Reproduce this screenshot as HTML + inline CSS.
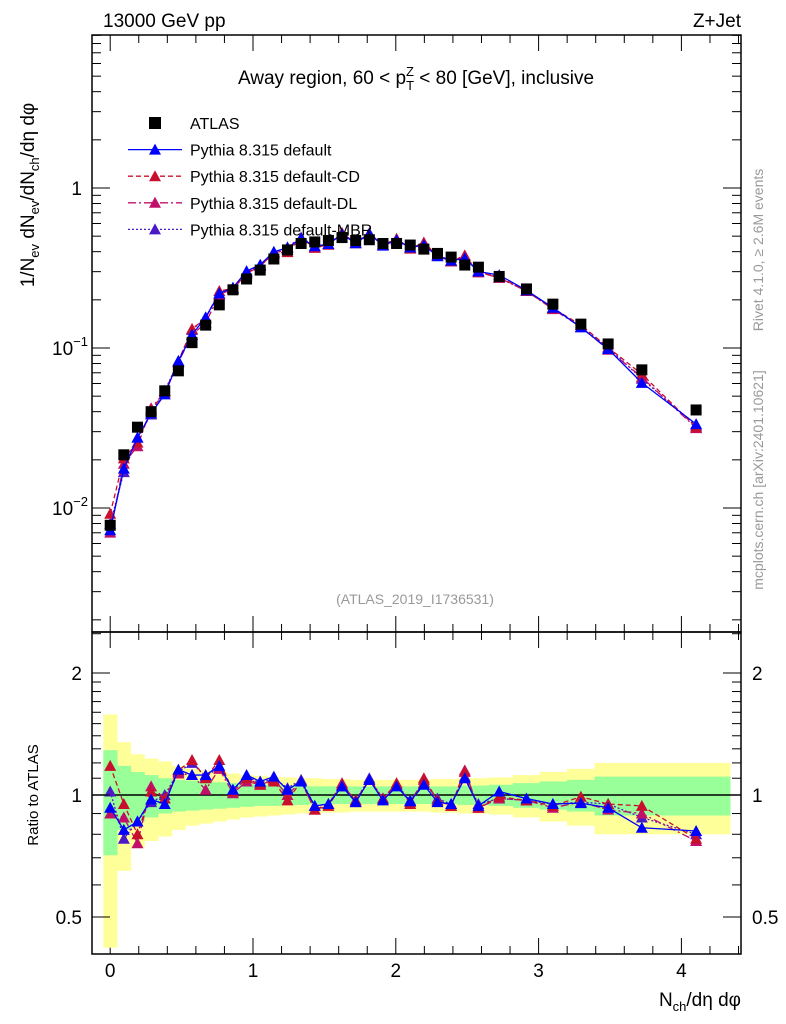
<!DOCTYPE html>
<html><head><meta charset="utf-8"><style>
body{margin:0;background:#fff;}
svg{display:block;font-family:"Liberation Sans",sans-serif;}
</style></head><body>
<svg id="chart" width="786" height="1024" viewBox="0 0 786 1024" xmlns="http://www.w3.org/2000/svg">
<text x="103" y="27" font-size="19">13000 GeV pp</text>
<text x="741" y="27" font-size="19" text-anchor="end">Z+Jet</text>
<text x="416" y="84" font-size="19" text-anchor="middle">Away region, 60 &lt; p<tspan font-size="13" dy="6">T</tspan><tspan font-size="13" dx="-8" dy="-14">Z</tspan><tspan dy="8"> &lt; 80 [GeV], inclusive</tspan></text>
<text x="415" y="604" font-size="14" fill="#999" text-anchor="middle">(ATLAS_2019_I1736531)</text>
<text transform="translate(763,250) rotate(-90)" font-size="14" fill="#999" text-anchor="middle">Rivet 4.1.0, ≥ 2.6M events</text>
<text transform="translate(763,480) rotate(-90)" font-size="14" fill="#999" text-anchor="middle">mcplots.cern.ch [arXiv:2401.10621]</text>
<text transform="translate(34,195) rotate(-90)" font-size="19" text-anchor="middle">1/N<tspan font-size="13" dy="5">ev</tspan><tspan dy="-5"> dN</tspan><tspan font-size="13" dy="5">ev</tspan><tspan dy="-5">/dN</tspan><tspan font-size="13" dy="5">ch</tspan><tspan dy="-5">/dη dφ</tspan></text>
<text transform="translate(38,795) rotate(-90)" font-size="15" text-anchor="middle">Ratio to ATLAS</text>
<text x="741" y="1006" font-size="19" text-anchor="end">N<tspan font-size="13" dy="5">ch</tspan><tspan dy="-5">/dη dφ</tspan></text>
<g id="main"></g>
<g id="ratio"></g>
<g id="legend"></g>
</svg>
<script>
const xCenters=[0,0.0955,0.191,0.2865,0.382,0.4775,0.573,0.6685,0.764,0.8595,0.955,1.0505,1.146,1.2415,1.337,1.4325,1.528,1.6235,1.719,1.8145,1.91,2.0055,2.101,2.1965,2.292,2.3875,2.483,2.5785,2.724,2.915,3.1,3.296,3.487,3.723,4.103];
const atlasValues=[0.0078,0.0215,0.032,0.040,0.054,0.072,0.108,0.139,0.186,0.231,0.27,0.307,0.36,0.41,0.45,0.46,0.47,0.49,0.47,0.475,0.45,0.45,0.44,0.415,0.39,0.37,0.33,0.32,0.28,0.234,0.188,0.141,0.106,0.073,0.041];
const ratioDefault=[0.93,0.82,0.86,0.975,0.95,1.155,1.12,1.12,1.18,1.03,1.12,1.08,1.11,1.03,1.08,0.94,0.95,1.05,0.96,1.09,0.97,1.05,0.965,1.06,0.96,0.95,1.10,0.94,1.02,0.98,0.95,0.955,0.93,0.83,0.815];
const ratioCD=[1.18,0.95,0.80,1.02,0.98,1.15,1.22,1.10,1.22,1.02,1.10,1.06,1.08,0.97,1.08,0.92,0.94,1.06,0.97,1.09,0.98,1.07,0.95,1.10,0.97,0.94,1.14,0.93,0.99,0.97,0.94,0.99,0.95,0.94,0.78];
const ratioDL=[0.90,0.88,0.76,1.05,0.98,1.13,1.12,1.03,1.16,1.01,1.08,1.06,1.09,1.00,1.08,0.92,0.95,1.07,0.96,1.09,0.98,1.06,0.96,1.09,0.97,0.94,1.15,0.93,0.98,0.97,0.93,0.96,0.92,0.90,0.77];
const ratioMBR=[1.02,0.78,0.86,0.96,1.00,1.14,1.20,1.11,1.17,1.03,1.11,1.07,1.10,1.04,1.09,0.94,0.95,1.05,0.97,1.10,0.98,1.06,0.97,1.07,0.98,0.95,1.11,0.95,0.98,0.97,0.95,0.96,0.95,0.88,0.80];
const bandYellow=[0.58,0.35,0.26,0.23,0.21,0.18,0.16,0.15,0.14,0.13,0.12,0.115,0.11,0.105,0.10,0.10,0.095,0.095,0.09,0.09,0.09,0.09,0.09,0.09,0.095,0.095,0.10,0.10,0.105,0.12,0.14,0.16,0.20,0.20,0.20];
const bandGreen=[0.29,0.18,0.14,0.12,0.10,0.09,0.085,0.08,0.075,0.07,0.065,0.06,0.06,0.055,0.055,0.05,0.05,0.05,0.05,0.05,0.05,0.05,0.05,0.05,0.05,0.05,0.055,0.055,0.06,0.07,0.08,0.09,0.11,0.11,0.11];
const xTicks=[0,1,2,3,4];

const NS="http://www.w3.org/2000/svg";
const L=92,R=741,MT=35,MB=632,RT=632,RB=954;
const X=v=>110.2+v*142.8;
const YM=v=>188-160*Math.log10(v);
const YR=v=>795-405.3*Math.log10(v);
function el(tag,attrs,parent){const e=document.createElementNS(NS,tag);for(const k in attrs)e.setAttribute(k,attrs[k]);parent.appendChild(e);return e;}
const main=document.getElementById('main'),ratio=document.getElementById('ratio'),legend=document.getElementById('legend');
const series=[
 {name:'default',r:ratioDefault,c:'#0000ff',dash:''},
 {name:'default-CD',r:ratioCD,c:'#c8102e',dash:'5,3'},
 {name:'default-DL',r:ratioDL,c:'#c0106a',dash:'8,3,2,3'},
 {name:'default-MBR',r:ratioMBR,c:'#4b1ac8',dash:'2,2'}];

const edges=[-0.048];
for(let i=0;i<xCenters.length-1;i++)edges.push((xCenters[i]+xCenters[i+1])/2);
edges.push(4.34);

for(let i=0;i<xCenters.length;i++){
 const lo=Math.min(YR(1-bandYellow[i]),RB);
 const y=el('rect',{x:X(edges[i]),width:X(edges[i+1])-X(edges[i])+0.5,y:YR(1+bandYellow[i]),height:lo-YR(1+bandYellow[i]),fill:'#ffff99'},ratio);
 
 
}
for(let i=0;i<xCenters.length;i++){
 const g=el('rect',{x:X(edges[i]),width:X(edges[i+1])-X(edges[i])+0.5,y:YR(1+bandGreen[i]),height:YR(1-bandGreen[i])-YR(1+bandGreen[i]),fill:'#99ff99'},ratio);
 
 
}
const one=el('line',{x1:L,x2:R,y1:YR(1),y2:YR(1),stroke:'#000','stroke-width':1.5},ratio);



function tri(cx,cy,c,parent){return el('polygon',{points:`${cx},${cy-6} ${cx-6},${cy+5} ${cx+6},${cy+5}`,fill:c},parent);}

series.slice().reverse().forEach(s=>{
 const ptsM=xCenters.map((x,i)=>X(x)+','+YM(atlasValues[i]*s.r[i])).join(' ');
 const lm=el('polyline',{points:ptsM,fill:'none',stroke:s.c,'stroke-width':1.3,'stroke-dasharray':s.dash},main);
 
 
 const ptsR=xCenters.map((x,i)=>X(x)+','+YR(s.r[i])).join(' ');
 const lr=el('polyline',{points:ptsR,fill:'none',stroke:s.c,'stroke-width':1.3,'stroke-dasharray':s.dash},ratio);
 
 
 xCenters.forEach((x,i)=>{
  const m=tri(X(x),YM(atlasValues[i]*s.r[i]),s.c,main);
  
  
  const r=tri(X(x),YR(s.r[i]),s.c,ratio);
  
  
 });
});
xCenters.forEach((x,i)=>{
 const q=el('rect',{x:X(x)-5.5,y:YM(atlasValues[i])-5.5,width:11,height:11,fill:'#000'},main);
 
 
});

[[MT,MB],[RT,RB]].forEach(([t,b])=>{
 const f=el('rect',{x:L,y:t,width:R-L,height:b-t,fill:'none',stroke:'#000','stroke-width':1.5},main);
 
 
});
for(let i=0;i<=22;i++){
 const vv=i*0.2;
 if(X(vv)>R)continue;
 const major=(i%5===0);
 const len=major?16:8;
 [[MT,1],[MB,-1],[RT,1],[RB,-1]].forEach(([y,d])=>{
  const t=el('line',{x1:X(vv),x2:X(vv),y1:y,y2:y+d*len,stroke:'#000','stroke-width':1},main);
  
  
 });
}
xTicks.forEach(v=>{
 const t=el('text',{x:X(v),y:977,'font-size':19,'text-anchor':'middle'},ratio);
 t.textContent=v;
 
 
});
for(let d=-3;d<=1;d++){for(let m=1;m<=9;m++){
 const v=m*Math.pow(10,d);const y=YM(v);if(y<MT||y>MB)continue;
 const len=m===1?18:9;
 [[L,1],[R,-1]].forEach(([x,s])=>{
  const t=el('line',{x1:x,x2:x+s*len,y1:y,y2:y,stroke:'#000','stroke-width':1},main);
  
  
 });
}}
[[1,'1',''],[0.1,'10','−1'],[0.01,'10','−2']].forEach(([v,b,e])=>{
 const t=el('text',{x:82,y:YM(v)+7,'font-size':19,'text-anchor':'end'},main);
 t.textContent=b;
 if(e){const s=el('tspan',{'font-size':13,dy:-9},t);s.textContent=e;t.setAttribute('x',88);}
 
 
});
[0.4,0.5,0.6,0.7,0.8,0.9,1,1.1,1.2,1.3,1.4,1.5,1.6,1.7,1.8,1.9,2,2.5].forEach(v=>{
 const y=YR(v);if(y<RT||y>RB)return;
 const len=(v===0.5||v===1||v===2)?18:9;
 [[L,1],[R,-1]].forEach(([x,s])=>{
  const t=el('line',{x1:x,x2:x+s*len,y1:y,y2:y,stroke:'#000','stroke-width':1},ratio);
  
  
 });
});
[[2,'2'],[1,'1'],[0.5,'0.5']].forEach(([v,s])=>{
 [[82,'end'],[752,'start']].forEach(([x,a])=>{
  const t=el('text',{x:x,y:YR(v)+7,'font-size':19,'text-anchor':a},ratio);
  t.textContent=s;
  
  
 });
});
const lg=[['ATLAS',null,''],['Pythia 8.315 default','#0000ff',''],['Pythia 8.315 default-CD','#c8102e','5,3'],['Pythia 8.315 default-DL','#c0106a','8,3,2,3'],['Pythia 8.315 default-MBR','#4b1ac8','2,2']];
lg.forEach(([label,c,dash],i)=>{
 const y=123+i*26.6;
 if(c===null){
  const q=el('rect',{x:149,y:y-6,width:12,height:12,fill:'#000'},legend);
  
  
 }else{
  const ln=el('line',{x1:128,x2:182,y1:y,y2:y,stroke:c,'stroke-width':1.3,'stroke-dasharray':dash},legend);
  
  
  const m=tri(155,y,c,legend);
  
  
 }
 const t=el('text',{x:190,y:y+6,'font-size':16},legend);
 t.textContent=label;
 
 
});
</script>
</body></html>
